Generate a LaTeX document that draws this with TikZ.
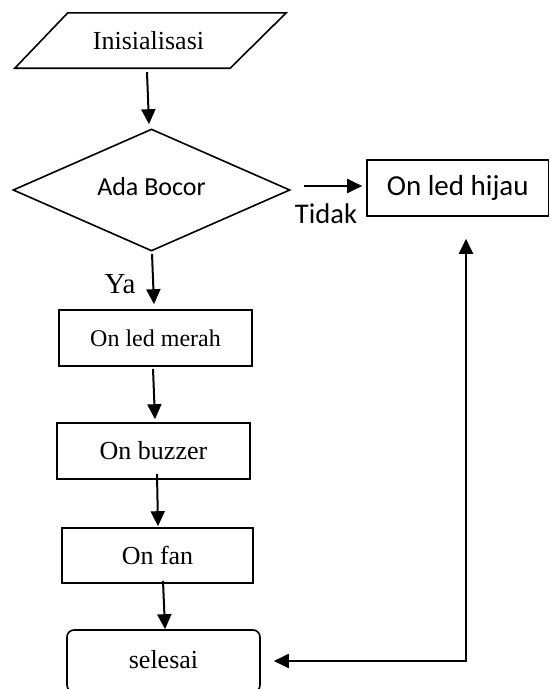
\documentclass[tikz,border=0pt]{standalone}
\usepackage{fontspec}
\setmainfont{Liberation Serif}
\newfontfamily\calibri{Carlito}
\usetikzlibrary{shapes.geometric,arrows.meta,calc}
\begin{document}
\begin{tikzpicture}[x=1pt,y=-1pt,
  box/.style={draw, line width=1.6pt, rectangle, inner sep=0pt},
  arr/.style={line width=2pt, -{Triangle[length=15pt,width=14pt]}},
  dblarr/.style={line width=2pt, {Triangle[length=15pt,width=14pt]}-{Triangle[length=15pt,width=14pt]}},
  serif26/.style={font=\fontsize{26}{30}\selectfont},
]
\useasboundingbox (0,0) rectangle (550,689);
\clip (0,0) rectangle (550,689);

\node[rectangle, minimum width=271pt, minimum height=55pt, inner sep=0pt, serif26]
      (init) at (150.5,40.5) {\hspace*{-4pt}Inisialisasi};
\draw[line width=1.6pt, line join=miter]
      ($(init.north west)+(53,0)$) -- (init.north east) -- ($(init.south east)+(-56,0)$)
      -- (init.south west) -- cycle;

\node[draw, diamond, line width=1.6pt, aspect=2.27, minimum width=277pt, minimum height=122pt,
      inner sep=0pt, font=\calibri\fontsize{26}{30}\selectfont] (dec) at (151.5,190) {\raisebox{7pt}{Ada Bocor}};

\node[box, minimum width=181.5pt, minimum height=56pt, font=\calibri\fontsize{29}{33}\selectfont]
      (hijau) at (457.75,188) {On led hijau};

\node[font=\calibri\fontsize{28.5}{32}\selectfont, anchor=base, inner sep=0pt] (tidak) at (326,223) {Tidak};
\node[font=\fontsize{29}{33}\selectfont, anchor=base, inner sep=0pt] (ya) at (120,293) {Ya};

\node[box, minimum width=193pt, minimum height=56pt, font=\fontsize{24}{28}\selectfont]
      (merah) at (155.5,338) {On led merah};
\node[box, minimum width=193pt, minimum height=56pt, serif26] (buzzer) at (153.5,451) {On buzzer};
\node[box, minimum width=191pt, minimum height=55pt, serif26] (fan) at (157.5,555.5) {On fan};
\node[box, rounded corners=7pt, minimum width=193pt, minimum height=62pt, serif26]
      (selesai) at (163.5,661) {\raisebox{3pt}{selesai}};

\draw[arr] ($(init.south)+(-3.5,4)$) -- ($(dec.north)+(-2.5,-4)$);
\draw[arr] ($(dec.south)+(0.5,2)$) -- ($(merah.north)+(-1.5,-5)$);
\draw[arr] ($(merah.south)+(-2.5,2)$) -- ($(buzzer.north)+(1.5,-3)$);
\draw[arr] ($(buzzer.south)+(3.5,-6)$) -- ($(fan.north)+(0.5,-1)$);
\draw[arr] ($(fan.south)+(5.5,-3)$) -- ($(selesai.north)+(1.5,0)$);
\draw[arr] ($(dec.east)+(13,-4)$) -- ($(hijau.west)+(-4,-2)$);
\draw[dblarr] ($(selesai.east)+(13,0)$) -| ($(hijau.south)+(8.25,22)$);
\end{tikzpicture}
\end{document}
